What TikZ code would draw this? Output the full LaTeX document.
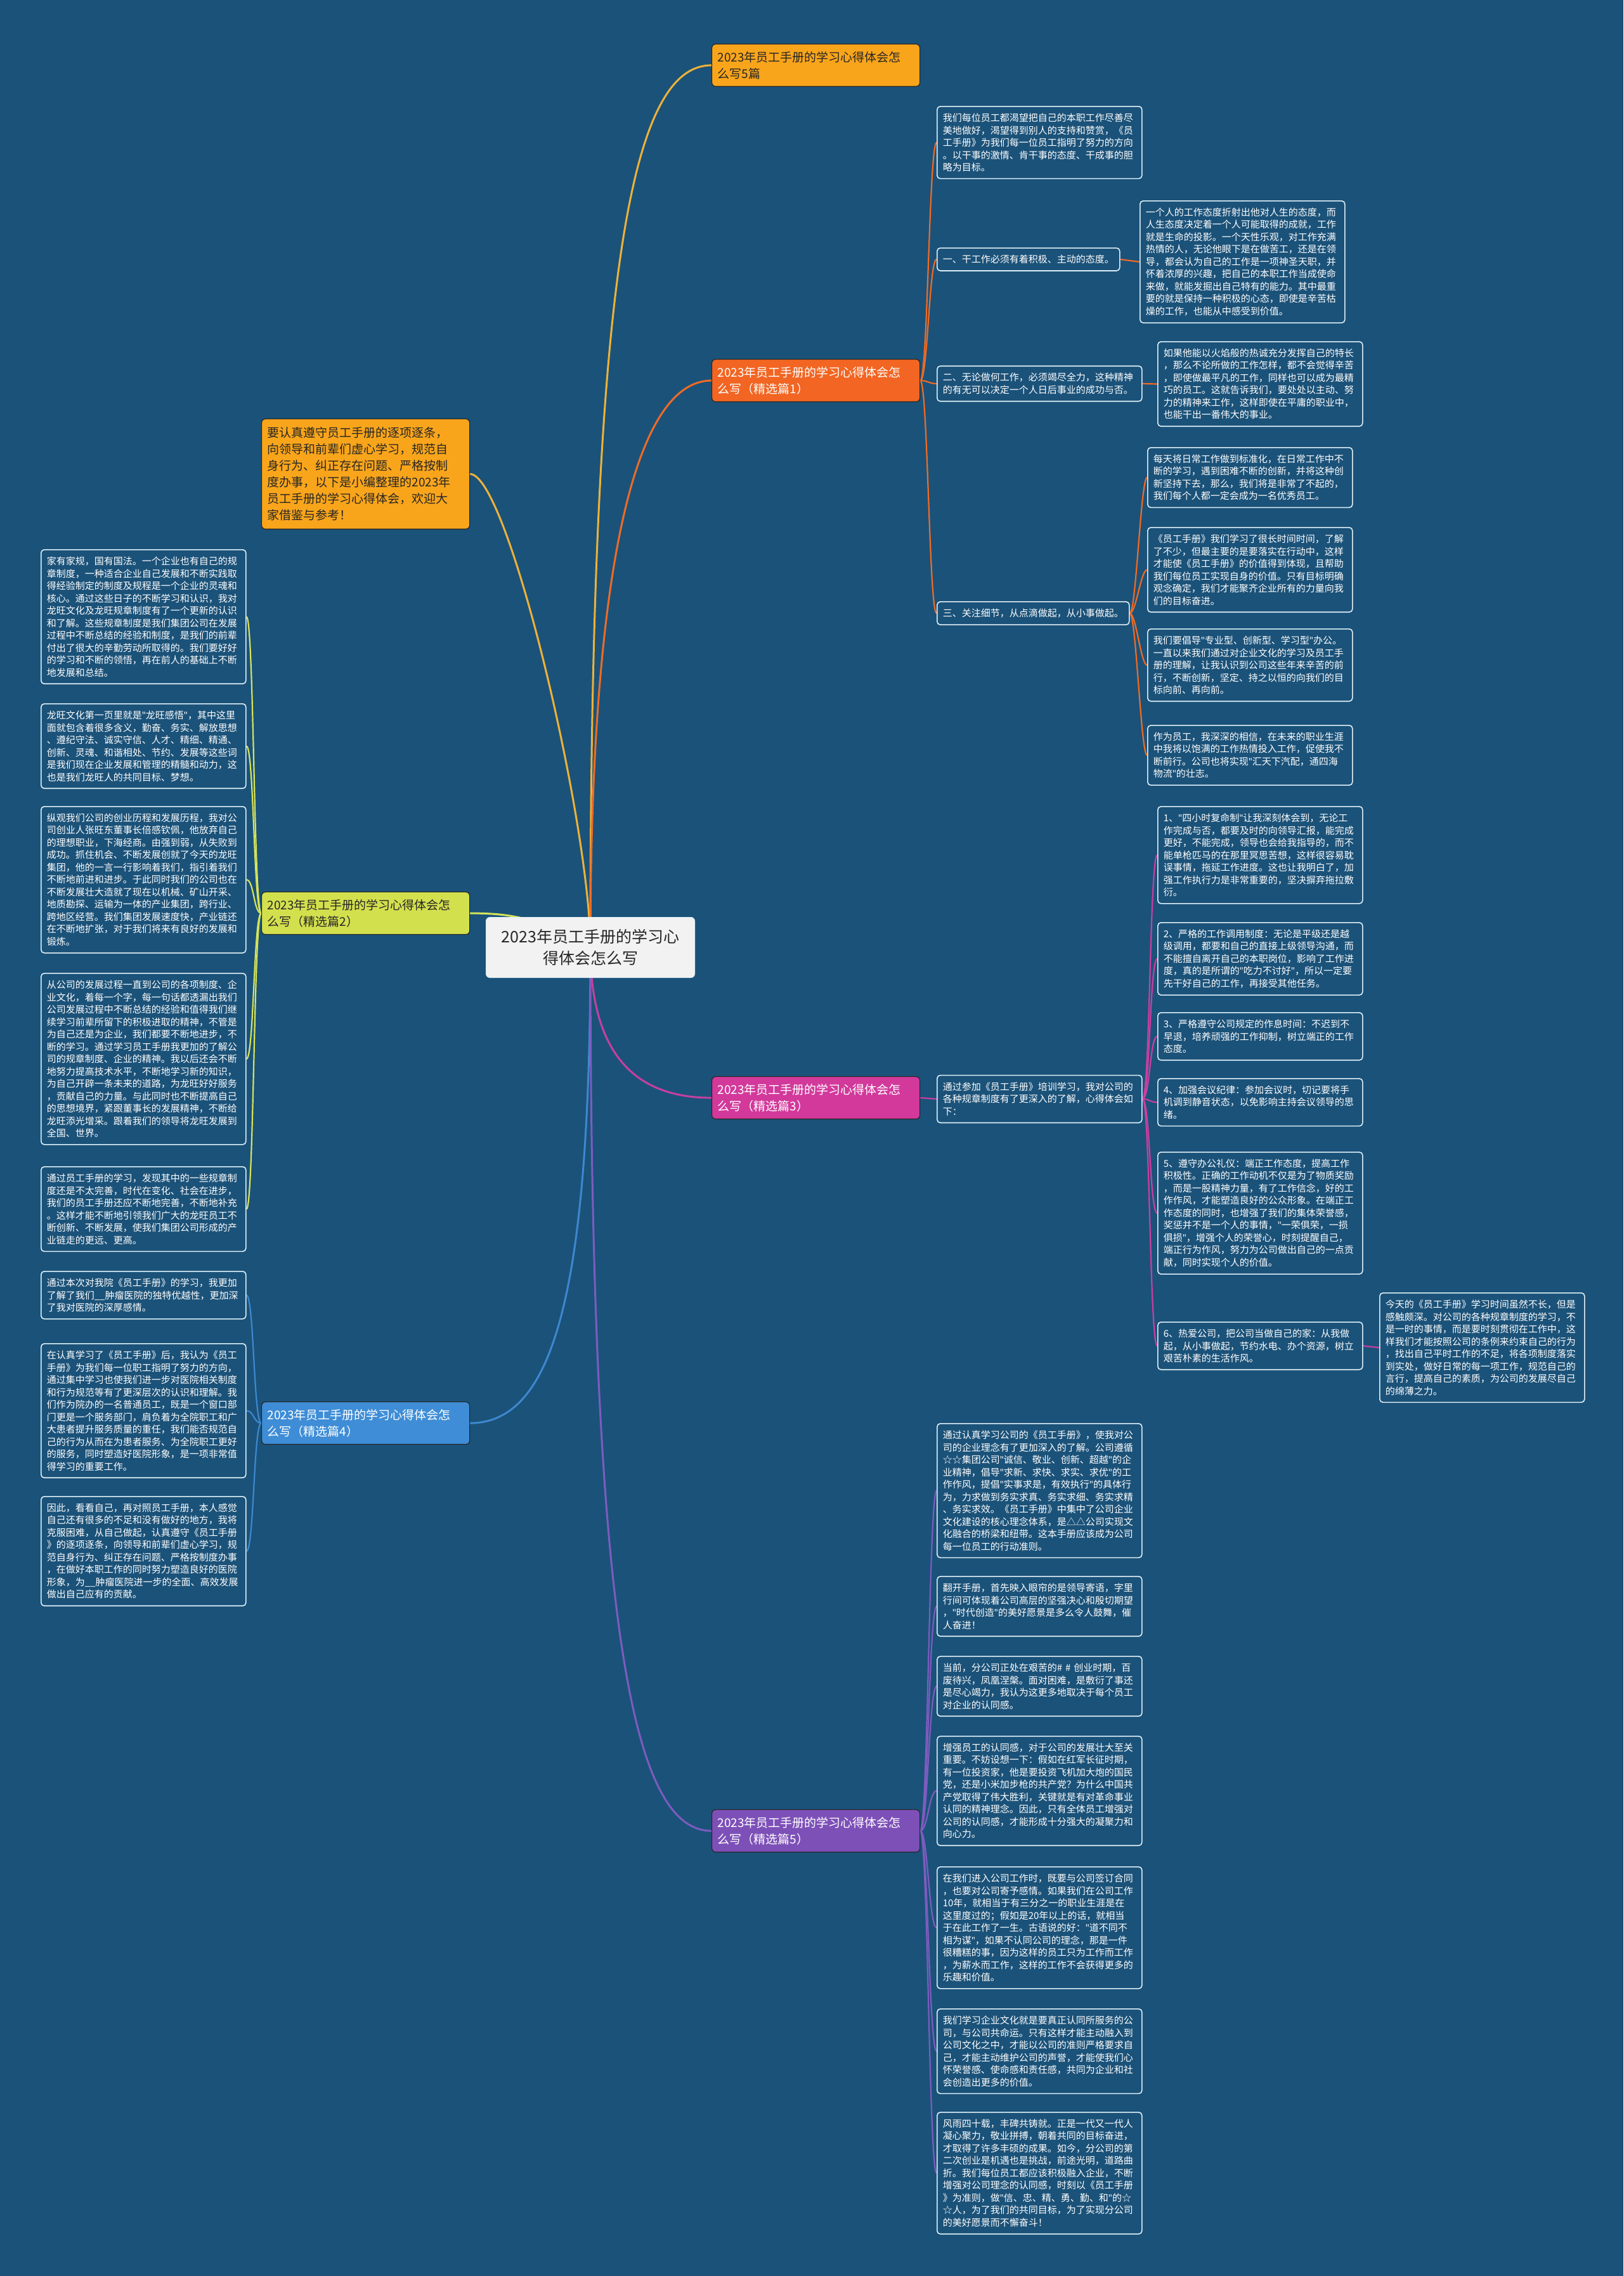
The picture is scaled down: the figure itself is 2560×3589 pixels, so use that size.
\documentclass[tikz,border=0pt]{standalone}
\usepackage{fontspec}
\setmainfont{Noto Sans CJK SC}[Ligatures=ResetAll]
\newfontfamily\latinfont{Noto Sans}[Ligatures=ResetAll]
\newcommand{\dq}{{\latinfont"}}
\usetikzlibrary{backgrounds}
\definecolor{bgBlue}{HTML}{1B5279}
\definecolor{boxLine}{HTML}{DDEFF7}
\definecolor{fillY}{HTML}{F9A51B}
\definecolor{lnY}{HTML}{EDB23A}
\definecolor{fill1}{HTML}{F26522}
\definecolor{ln1}{HTML}{EE6B26}
\definecolor{fill2}{HTML}{D3E04E}
\definecolor{ln2}{HTML}{D5E35A}
\definecolor{fill3}{HTML}{D2399B}
\definecolor{ln3}{HTML}{C83FA0}
\definecolor{fill4}{HTML}{3E8DD6}
\definecolor{ln4}{HTML}{3D88CF}
\definecolor{fill5}{HTML}{7D50B8}
\definecolor{ln5}{HTML}{7C5CC0}
\tikzset{
	box/.style={draw=boxLine, line width=1.6pt, fill=bgBlue, rounded corners=5pt, text=white,
		align=left, inner xsep=9pt, inner ysep=11pt, font=\fontsize{15}{19.5}\selectfont},
	txt/.style={box, text width=305pt},
	branch/.style={draw=black!85, line width=1.2pt, rounded corners=6pt, align=left,
		text width=310pt, inner xsep=9pt, inner ysep=11.5pt, font=\fontsize{19}{26}\selectfont},
	trunk/.style={line width=3pt},
	twig/.style={line width=2.2pt}
}

\begin{document}
\begin{tikzpicture}[x=1pt,y=-1pt]
	\useasboundingbox (0,0) rectangle (2560,3589);
	% root and branches
	\node[draw=boxLine, line width=1pt, fill=black!5, rounded corners=6pt, align=center, text=black!85,
		minimum width=329pt, minimum height=95pt, font=\fontsize{25}{34}\selectfont] (root) at (931,1494) {2023年员工手册的学习心\\得体会怎么写};
	\node[branch, fill=fillY, text=black!85, anchor=north west] (b0) at (1122,69) {2023年员工手册的学习心得体会怎\\么写5篇};
	\node[branch, fill=fillY, text=black!85, anchor=north west, inner ysep=13pt] (intro) at (412,660) {要认真遵守员工手册的逐项逐条，\\向领导和前辈们虚心学习，规范自\\身行为、纠正存在问题、严格按制\\度办事，以下是小编整理的2023年\\员工手册的学习心得体会，欢迎大\\家借鉴与参考！};
	\node[branch, fill=fill1, text=white, anchor=north west] (b1) at (1122,566) {2023年员工手册的学习心得体会怎\\么写（精选篇1）};
	\node[branch, fill=fill2, text=black!85, anchor=north west] (b2) at (412,1406) {2023年员工手册的学习心得体会怎\\么写（精选篇2）};
	\node[branch, fill=fill3, text=white, anchor=north west] (b3) at (1122,1697) {2023年员工手册的学习心得体会怎\\么写（精选篇3）};
	\node[branch, fill=fill4, text=white, anchor=north west] (b4) at (412,2210) {2023年员工手册的学习心得体会怎\\么写（精选篇4）};
	\node[branch, fill=fill5, text=white, anchor=north west] (b5) at (1122,2853) {2023年员工手册的学习心得体会怎\\么写（精选篇5）};

	% 精选篇1
	\node[txt, anchor=north west] (b1_1) at (1477,167) {我们每位员工都渴望把自己的本职工作尽善尽\\美地做好，渴望得到别人的支持和赞赏，《员\\工手册》为我们每一位员工指明了努力的方向\\。以干事的激情、肯干事的态度、干成事的胆\\略为目标。};
	\node[box, anchor=west] (b1_2) at (1477,409) {一、干工作必须有着积极、主动的态度。};
	\node[txt, anchor=north west] (b1_2_1) at (1797,316) {一个人的工作态度折射出他对人生的态度，而\\人生态度决定着一个人可能取得的成就，工作\\就是生命的投影。一个天性乐观，对工作充满\\热情的人，无论他眼下是在做苦工，还是在领\\导，都会认为自己的工作是一项神圣天职，并\\怀着浓厚的兴趣，把自己的本职工作当成使命\\来做，就能发掘出自己特有的能力。其中最重\\要的就是保持一种积极的心态，即使是辛苦枯\\燥的工作，也能从中感受到价值。};
	\node[txt, anchor=west] (b1_3) at (1477,605) {二、无论做何工作，必须竭尽全力，这种精神\\的有无可以决定一个人日后事业的成功与否。};
	\node[txt, anchor=north west] (b1_3_1) at (1825,538) {如果他能以火焰般的热诚充分发挥自己的特长\\，那么不论所做的工作怎样，都不会觉得辛苦\\，即使做最平凡的工作，同样也可以成为最精\\巧的员工。这就告诉我们，要处处以主动、努\\力的精神来工作，这样即使在平庸的职业中，\\也能干出一番伟大的事业。};
	\node[box, anchor=west] (b1_4) at (1477,967) {三、关注细节，从点滴做起，从小事做起。};
	\node[txt, anchor=north west] (b1_4_1) at (1809,705) {每天将日常工作做到标准化，在日常工作中不\\断的学习，遇到困难不断的创新，并将这种创\\新坚持下去，那么，我们将是非常了不起的，\\我们每个人都一定会成为一名优秀员工。};
	\node[txt, anchor=north west] (b1_4_2) at (1809,831) {《员工手册》我们学习了很长时间时间，了解\\了不少，但最主要的是要落实在行动中，这样\\才能使《员工手册》的价值得到体现，且帮助\\我们每位员工实现自身的价值。只有目标明确\\观念确定，我们才能聚齐企业所有的力量向我\\们的目标奋进。};
	\node[txt, anchor=north west] (b1_4_3) at (1809,991) {我们要倡导\dq 专业型、创新型、学习型\dq 办公。\\一直以来我们通过对企业文化的学习及员工手\\册的理解，让我认识到公司这些年来辛苦的前\\行，不断创新，坚定、持之以恒的向我们的目\\标向前、再向前。};
	\node[txt, anchor=north west] (b1_4_4) at (1809,1143) {作为员工，我深深的相信，在未来的职业生涯\\中我将以饱满的工作热情投入工作，促使我不\\断前行。公司也将实现\dq 汇天下汽配，通四海\\物流\dq 的壮志。};

	% 精选篇2
	\node[txt, anchor=north west] (b2_1) at (64,866) {家有家规，国有国法。一个企业也有自己的规\\章制度，一种适合企业自己发展和不断实践取\\得经验制定的制度及规程是一个企业的灵魂和\\核心。通过这些日子的不断学习和认识，我对\\龙旺文化及龙旺规章制度有了一个更新的认识\\和了解。这些规章制度是我们集团公司在发展\\过程中不断总结的经验和制度，是我们的前辈\\付出了很大的辛勤劳动所取得的。我们要好好\\的学习和不断的领悟，再在前人的基础上不断\\地发展和总结。};
	\node[txt, anchor=north west] (b2_2) at (64,1109) {龙旺文化第一页里就是\dq 龙旺感悟\dq ，其中这里\\面就包含着很多含义，勤奋、务实、解放思想\\、遵纪守法、诚实守信、人才、精细、精通、\\创新、灵魂、和谐相处、节约、发展等这些词\\是我们现在企业发展和管理的精髓和动力，这\\也是我们龙旺人的共同目标、梦想。};
	\node[txt, anchor=north west] (b2_3) at (64,1271) {纵观我们公司的创业历程和发展历程，我对公\\司创业人张旺东董事长倍感钦佩，他放弃自己\\的理想职业，下海经商。由强到弱，从失败到\\成功。抓住机会、不断发展创就了今天的龙旺\\集团，他的一言一行影响着我们，指引着我们\\不断地前进和进步。于此同时我们的公司也在\\不断发展壮大造就了现在以机械、矿山开采、\\地质勘探、运输为一体的产业集团，跨行业、\\跨地区经营。我们集团发展速度快，产业链还\\在不断地扩张，对于我们将来有良好的发展和\\锻炼。};
	\node[txt, anchor=north west] (b2_4) at (64,1534) {从公司的发展过程一直到公司的各项制度、企\\业文化，着每一个字，每一句话都透漏出我们\\公司发展过程中不断总结的经验和值得我们继\\续学习前辈所留下的积极进取的精神，不管是\\为自己还是为企业，我们都要不断地进步，不\\断的学习。通过学习员工手册我更加的了解公\\司的规章制度、企业的精神。我以后还会不断\\地努力提高技术水平，不断地学习新的知识，\\为自己开辟一条未来的道路，为龙旺好好服务\\，贡献自己的力量。与此同时也不断提高自己\\的思想境界，紧跟董事长的发展精神，不断给\\龙旺添光增采。跟着我们的领导将龙旺发展到\\全国、世界。};
	\node[txt, anchor=north west] (b2_5) at (64,1839) {通过员工手册的学习，发现其中的一些规章制\\度还是不太完善，时代在变化、社会在进步，\\我们的员工手册还应不断地完善，不断地补充\\。这样才能不断地引领我们广大的龙旺员工不\\断创新、不断发展，使我们集团公司形成的产\\业链走的更远、更高。};

	% 精选篇3
	\node[txt, anchor=west] (b3_0) at (1477,1733) {通过参加《员工手册》培训学习，我对公司的\\各种规章制度有了更深入的了解，心得体会如\\下：};
	\node[txt, anchor=north west] (b3_1) at (1825,1271) {1、\dq 四小时复命制\dq 让我深刻体会到，无论工\\作完成与否，都要及时的向领导汇报，能完成\\更好，不能完成，领导也会给我指导的，而不\\能单枪匹马的在那里冥思苦想，这样很容易耽\\误事情，拖延工作进度。这也让我明白了，加\\强工作执行力是非常重要的，坚决摒弃拖拉敷\\衍。};
	\node[txt, anchor=north west] (b3_2) at (1825,1454) {2、严格的工作调用制度：无论是平级还是越\\级调用，都要和自己的直接上级领导沟通，而\\不能擅自离开自己的本职岗位，影响了工作进\\度，真的是所谓的\dq 吃力不讨好\dq ，所以一定要\\先干好自己的工作，再接受其他任务。};
	\node[txt, anchor=north west] (b3_3) at (1825,1596) {3、严格遵守公司规定的作息时间：不迟到不\\早退，培养顽强的工作抑制，树立端正的工作\\态度。};
	\node[txt, anchor=north west] (b3_4) at (1825,1700) {4、加强会议纪律：参加会议时，切记要将手\\机调到静音状态，以免影响主持会议领导的思\\绪。};
	\node[txt, anchor=north west] (b3_5) at (1825,1816) {5、遵守办公礼仪：端正工作态度，提高工作\\积极性。正确的工作动机不仅是为了物质奖励\\，而是一股精神力量，有了工作信念，好的工\\作作风，才能塑造良好的公众形象。在端正工\\作态度的同时，也增强了我们的集体荣誉感，\\奖惩并不是一个人的事情，\dq 一荣俱荣，一损\\俱损\dq ，增强个人的荣誉心，时刻提醒自己，\\端正行为作风，努力为公司做出自己的一点贡\\献，同时实现个人的价值。};
	\node[txt, anchor=north west] (b3_6) at (1825,2084) {6、热爱公司，把公司当做自己的家：从我做\\起，从小事做起，节约水电、办个资源，树立\\艰苦朴素的生活作风。};
	\node[txt, anchor=north west] (b3_6_1) at (2175,2038) {今天的《员工手册》学习时间虽然不长，但是\\感触颇深。对公司的各种规章制度的学习，不\\是一时的事情，而是要时刻贯彻在工作中，这\\样我们才能按照公司的条例来约束自己的行为\\，找出自己平时工作的不足，将各项制度落实\\到实处，做好日常的每一项工作，规范自己的\\言行，提高自己的素质，为公司的发展尽自己\\的绵薄之力。};

	% 精选篇4
	\node[txt, anchor=north west] (b4_1) at (64,2004) {通过本次对我院《员工手册》的学习，我更加\\了解了我们\_\_肿瘤医院的独特优越性，更加深\\了我对医院的深厚感情。};
	\node[txt, anchor=north west] (b4_2) at (64,2118) {在认真学习了《员工手册》后，我认为《员工\\手册》为我们每一位职工指明了努力的方向，\\通过集中学习也使我们进一步对医院相关制度\\和行为规范等有了更深层次的认识和理解。我\\们作为院办的一名普通员工，既是一个窗口部\\门更是一个服务部门，肩负着为全院职工和广\\大患者提升服务质量的重任，我们能否规范自\\己的行为从而在为患者服务、为全院职工更好\\的服务，同时塑造好医院形象，是一项非常值\\得学习的重要工作。};
	\node[txt, anchor=north west] (b4_3) at (64,2359) {因此，看看自己，再对照员工手册，本人感觉\\自己还有很多的不足和没有做好的地方，我将\\克服困难，从自己做起，认真遵守《员工手册\\》的逐项逐条，向领导和前辈们虚心学习，规\\范自身行为、纠正存在问题、严格按制度办事\\，在做好本职工作的同时努力塑造良好的医院\\形象，为\_\_肿瘤医院进一步的全面、高效发展\\做出自己应有的贡献。};

	% 精选篇5
	\node[txt, anchor=north west] (b5_1) at (1477,2244) {通过认真学习公司的《员工手册》，使我对公\\司的企业理念有了更加深入的了解。公司遵循\\☆☆集团公司\dq 诚信、敬业、创新、超越\dq 的企\\业精神，倡导\dq 求新、求快、求实、求优\dq 的工\\作作风，提倡\dq 实事求是，有效执行\dq 的具体行\\为，力求做到务实求真、务实求细、务实求精\\、务实求效。《员工手册》中集中了公司企业\\文化建设的核心理念体系，是△△公司实现文\\化融合的桥梁和纽带。这本手册应该成为公司\\每一位员工的行动准则。};
	\node[txt, anchor=north west] (b5_2) at (1477,2485) {翻开手册，首先映入眼帘的是领导寄语，字里\\行间可体现着公司高层的坚强决心和殷切期望\\，\dq 时代创造\dq 的美好愿景是多么令人鼓舞，催\\人奋进！};
	\node[txt, anchor=north west] (b5_3) at (1477,2611) {当前，分公司正处在艰苦的\# \# 创业时期，百\\废待兴，凤凰涅槃。面对困难，是敷衍了事还\\是尽心竭力，我认为这更多地取决于每个员工\\对企业的认同感。};
	\node[txt, anchor=north west] (b5_4) at (1477,2737) {增强员工的认同感，对于公司的发展壮大至关\\重要。不妨设想一下：假如在红军长征时期，\\有一位投资家，他是要投资飞机加大炮的国民\\党，还是小米加步枪的共产党？为什么中国共\\产党取得了伟大胜利，关键就是有对革命事业\\认同的精神理念。因此，只有全体员工增强对\\公司的认同感，才能形成十分强大的凝聚力和\\向心力。};
	\node[txt, anchor=north west] (b5_5) at (1477,2943) {在我们进入公司工作时，既要与公司签订合同\\，也要对公司寄予感情。如果我们在公司工作\\10年，就相当于有三分之一的职业生涯是在\\这里度过的；假如是20年以上的话，就相当\\于在此工作了一生。古语说的好：\dq 道不同不\\相为谋\dq ，如果不认同公司的理念，那是一件\\很糟糕的事，因为这样的员工只为工作而工作\\，为薪水而工作，这样的工作不会获得更多的\\乐趣和价值。};
	\node[txt, anchor=north west] (b5_6) at (1477,3167) {我们学习企业文化就是要真正认同所服务的公\\司，与公司共命运。只有这样才能主动融入到\\公司文化之中，才能以公司的准则严格要求自\\己，才能主动维护公司的声誉，才能使我们心\\怀荣誉感、使命感和责任感，共同为企业和社\\会创造出更多的价值。};
	\node[txt, anchor=north west] (b5_7) at (1477,3330) {风雨四十载，丰碑共铸就。正是一代又一代人\\凝心聚力，敬业拼搏，朝着共同的目标奋进，\\才取得了许多丰硕的成果。如今，分公司的第\\二次创业是机遇也是挑战，前途光明，道路曲\\折。我们每位员工都应该积极融入企业，不断\\增强对公司理念的认同感，时刻以《员工手册\\》为准则，做\dq 信、忠、精、勇、勤、和\dq 的☆\\☆人，为了我们的共同目标，为了实现分公司\\的美好愿景而不懈奋斗！};

	% connectors
	\begin{scope}[on background layer]
		\fill[bgBlue] (0,0) rectangle (2560,3589);
		\draw[trunk, lnY] (root.center) .. controls +(0,-1093) and +(-122,0) .. (b0.west);
		\draw[trunk, lnY] (root.center) .. controls +(0,-193) and +(60,0) .. (intro.east);
		\draw[trunk, ln1] (root.center) .. controls +(0,-600) and +(-120,0) .. (b1.west);
		\draw[trunk, ln2] (root.center) .. controls +(-80,-45) and +(70,0) .. (b2.east);
		\draw[trunk, ln3] (root.center) .. controls +(0,180) and +(-110,0) .. (b3.west);
		\draw[trunk, ln4] (root.center) .. controls +(0,550) and +(130,0) .. (b4.east);
		\draw[trunk, ln5] (root.center) .. controls +(0,1100) and +(-120,0) .. (b5.west);
		\foreach \i in {1,...,4}
			\draw[twig, ln1] (b1.east) .. controls +(12,0) and +(-12,0) .. (b1_\i.west);
		\draw[twig, ln1] (b1_2.east) -- (b1_2_1.west);
		\draw[twig, ln1] (b1_3.east) -- (b1_3_1.west);
		\foreach \i in {1,...,4}
			\draw[twig, ln1] (b1_4.east) .. controls +(10,0) and +(-10,0) .. (b1_4_\i.west);
		\foreach \i in {1,...,5}
			\draw[twig, ln2] (b2.west) .. controls +(-12,0) and +(12,0) .. (b2_\i.east);
		\draw[twig, ln3] (b3.east) -- (b3_0.west);
		\foreach \i in {1,...,6}
			\draw[twig, ln3] (b3_0.east) .. controls +(12,0) and +(-12,0) .. (b3_\i.west);
		\draw[twig, ln3] (b3_6.east) -- (b3_6_1.west);
		\foreach \i in {1,...,3}
			\draw[twig, ln4] (b4.west) .. controls +(-12,0) and +(12,0) .. (b4_\i.east);
		\foreach \i in {1,...,7}
			\draw[twig, ln5] (b5.east) .. controls +(12,0) and +(-12,0) .. (b5_\i.west);
	\end{scope}
\end{tikzpicture}
\end{document}
